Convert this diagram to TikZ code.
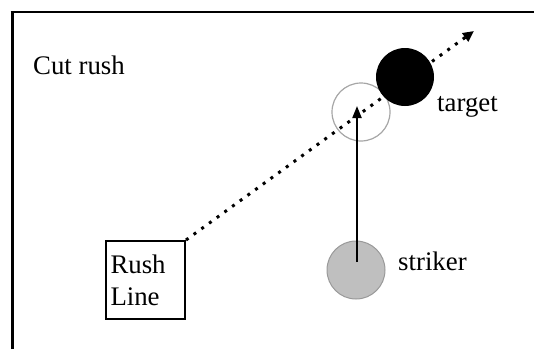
\documentclass[tikz,border=0pt]{standalone}
\usepackage{fontspec}
\setmainfont{Liberation Serif}
\usetikzlibrary{arrows.meta}
\begin{document}
\begin{tikzpicture}[x=1pt,y=-1pt,
  lbl/.style={font=\fontsize{26.8}{32}\selectfont, inner sep=0pt},
  ball/.style={circle, minimum size=58pt, inner sep=0pt},
  dotline/.style={line width=3pt, dash pattern=on 3pt off 6.5pt},
]
\useasboundingbox (0,0) rectangle (534,349);
% frame
\draw[line width=3pt] (12,349) -- (12,12.5);
\draw[line width=2pt] (10.5,12) -- (534,12);
% label
\node[lbl, anchor=base west] (cut) at (33,74) {Cut rush};
% balls
\node[ball, draw=black!35, line width=1.2pt] (ghost) at (361,112) {};
\node[ball, fill=black] (target) at (405,77) {};
\node[ball, fill=black!25, draw=black!40, line width=1pt] (striker) at (356,270) {};
\node[lbl, anchor=base west] (tlabel) at (437,111) {target};
\node[lbl, anchor=base west] (slabel) at (398,270) {striker};
% rush line box
\node[draw, line width=2pt, minimum width=79pt, minimum height=78pt, inner xsep=4pt,
      text width=70pt, align=left, font=\fontsize{26.8}{32}\selectfont] (rush) at (145.5,280) {Rush\\Line};
% dotted path
\coordinate (far) at (474,31);
\draw[dotline, -{Triangle[length=11pt,width=10pt]}] (rush.north east) -- (far);
% striker arrow
\coordinate (tip) at (357,106);
\draw[line width=2pt, -{Triangle[length=12pt,width=9pt]}] ([xshift=1pt,yshift=8pt]striker.center) -- (tip);
\end{tikzpicture}
\end{document}
